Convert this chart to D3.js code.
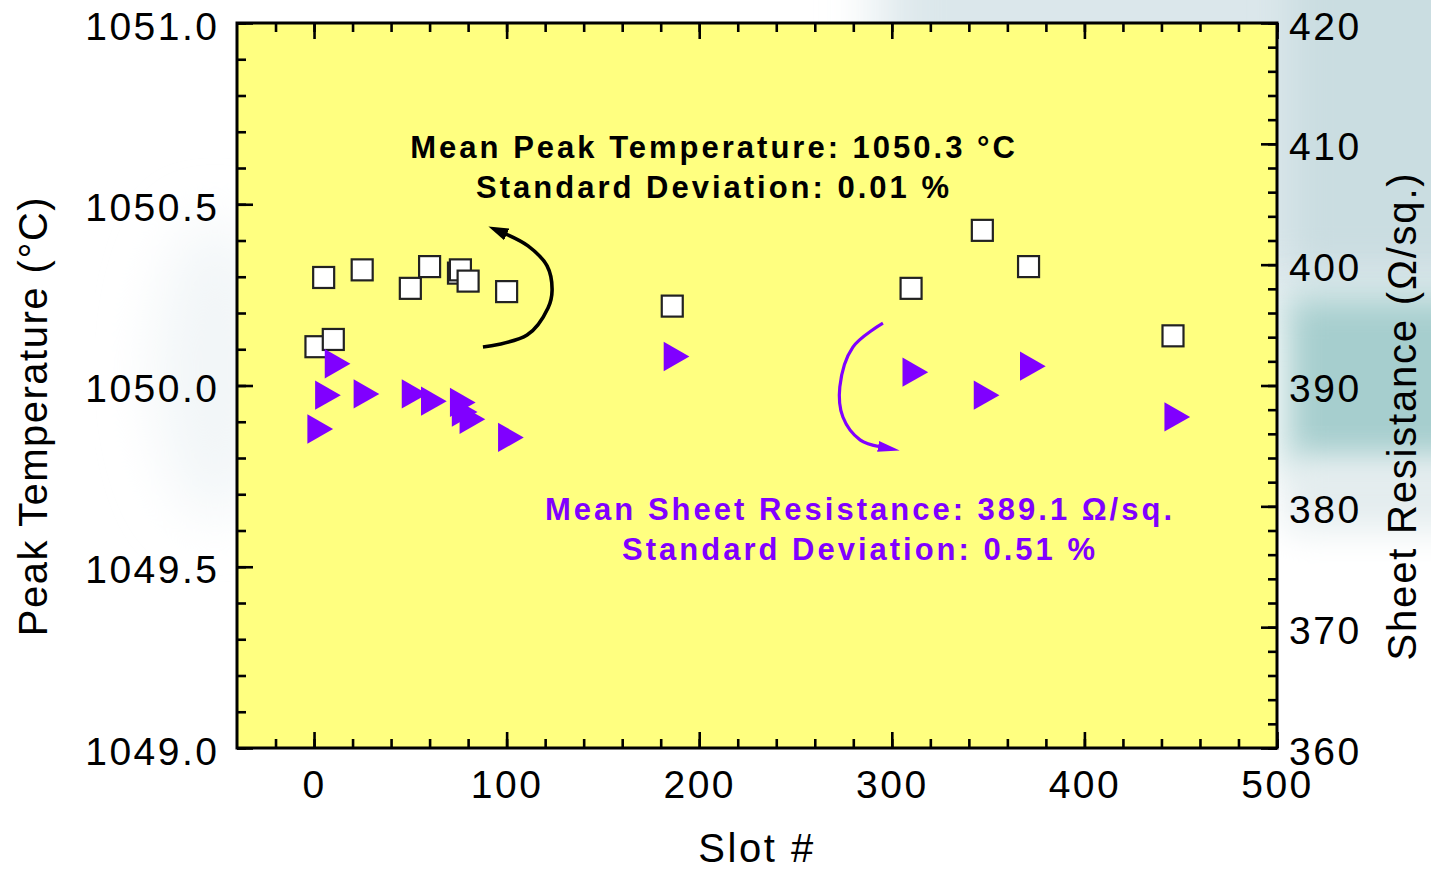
<!DOCTYPE html>
<html><head><meta charset="utf-8">
<script src="https://cdn.jsdelivr.net/npm/d3@7"></script>
<style>
html,body{margin:0;padding:0;background:#fff;}
svg{display:block;font-family:Arial,"Liberation Sans",Helvetica,sans-serif;}
</style></head><body>
<svg id="chart" width="1431" height="869"></svg>
<script>
// ---- data ----
const slots     = [1, 5, 10, 25, 50, 60, 75, 76, 80, 100, 186, 310, 347, 371, 446];
const peakTemp  = [1050.107, 1050.298, 1050.127, 1050.319, 1050.268, 1050.328, 1050.310, 1050.319, 1050.288, 1050.259, 1050.219, 1050.268, 1050.428, 1050.328, 1050.137];
const sheetRes  = [386.4, 389.2, 391.8, 389.3, 389.3, 388.7, 388.6, 387.8, 387.2, 385.7, 392.4, 391.1, 389.2, 391.6, 387.4];
const xMajorTicks = [0, 100, 200, 300, 400, 500];
const xMinorTicks = d3.range(-20, 501, 20);
const yLeftMajorTicks = [1049.0, 1049.5, 1050.0, 1050.5, 1051.0];
const yLeftMinorTicks = d3.range(10490, 10511, 1).map(v => v / 10);
const yRightMajorTicks = [360, 370, 380, 390, 400, 410, 420];
const yRightMinorTicks = d3.range(360, 421, 2);
const xTitle = "Slot #";
const yLeftTitle = "Peak Temperature (°C)";
const yRightTitle = "Sheet Resistance (Ω/sq.)";
const tempNote = ["Mean Peak Temperature: 1050.3 °C", "Standard Deviation: 0.01 %"];
const resNote = ["Mean Sheet Resistance: 389.1 Ω/sq.", "Standard Deviation: 0.51 %"];
// annotation anchors in data units (slot, peak temperature)
const tempNotePos = [[207.7, 1050.628], [207.7, 1050.518]];
const resNotePos = [[283.5, 1049.629], [283.5, 1049.519]];
const tempArrow = [[87.7,1050.106],[110.6,1050.139],[121.5,1050.214],[123.6,1050.263],[121.0,1050.330],[111.1,1050.385],[99.1,1050.419]];
const resArrow = [[295.4,1050.172],[279.8,1050.106],[273.0,1049.996],[274.6,1049.913],[283.5,1049.850],[293.9,1049.831]];

// ---- layout ----
const W = 1431, H = 869;
const L = 237, R = 1277, T = 23, B = 748;
const purple = "#8000FF";

const svg = d3.select("#chart");
const defs = svg.append("defs");
const f = defs.append("filter").attr("id","blur").attr("x","-50%").attr("y","-50%").attr("width","200%").attr("height","200%");
f.append("feGaussianBlur").attr("stdDeviation", 28);
const f2 = defs.append("filter").attr("id","blur2").attr("x","-50%").attr("y","-50%").attr("width","200%").attr("height","200%");
f2.append("feGaussianBlur").attr("stdDeviation", 18);

// faded background picture
const bg = svg.append("g");
bg.append("rect").attr("x", 880).attr("y", -120).attr("width", 700).attr("height", 420).attr("fill", "#dbe7eb").attr("filter","url(#blur)");
bg.append("rect").attr("x", 1290).attr("y", -60).attr("width", 220).attr("height", 330).attr("fill", "#cadde1").attr("filter","url(#blur2)");
bg.append("rect").attr("x", 1285).attr("y", 295).attr("width", 220).attr("height", 175).attr("fill", "#a6cece").attr("filter","url(#blur2)");
bg.append("rect").attr("x", 1285).attr("y", 460).attr("width", 220).attr("height", 70).attr("fill", "#e3ecee").attr("filter","url(#blur2)");
bg.append("ellipse").attr("cx", 215).attr("cy", 370).attr("rx", 60).attr("ry", 150).attr("fill", "#f2f6f8").attr("filter","url(#blur)");

const x = d3.scaleLinear().domain([-40, 500]).range([L, R]);
const yL = d3.scaleLinear().domain([1049, 1051]).range([B, T]);
const yR = d3.scaleLinear().domain([360, 420]).range([B, T]);

// plot background
svg.append("rect").attr("x", L).attr("y", T).attr("width", R - L).attr("height", B - T).attr("fill", "#FFFF80");

const tickFont = 39, ls = 2.5;
function styleAxis(g) {
  g.select(".domain").remove();
  g.selectAll(".tick line").attr("stroke", "#000").attr("stroke-width", 2.6);
  g.selectAll(".tick text").attr("fill", "#000").attr("font-size", tickFont).attr("letter-spacing", ls).attr("font-family", "Arial, 'Liberation Sans', sans-serif");
}
// bottom
svg.append("g").attr("transform", `translate(0,${B})`).call(d3.axisBottom(x).tickValues(xMinorTicks).tickSize(-9).tickFormat("")).call(styleAxis);
svg.append("g").attr("transform", `translate(0,${B})`).call(d3.axisBottom(x).tickValues(xMajorTicks).tickSize(-16).tickPadding(22).tickFormat(d3.format("d"))).call(styleAxis);
// top
svg.append("g").attr("transform", `translate(0,${T})`).call(d3.axisTop(x).tickValues(xMinorTicks).tickSize(-9).tickFormat("")).call(styleAxis);
svg.append("g").attr("transform", `translate(0,${T})`).call(d3.axisTop(x).tickValues(xMajorTicks).tickSize(-16).tickFormat("")).call(styleAxis);
// left
svg.append("g").attr("transform", `translate(${L},0)`).call(d3.axisLeft(yL).tickValues(yLeftMinorTicks).tickSize(-9).tickFormat("")).call(styleAxis);
const gl = svg.append("g").attr("transform", `translate(${L},0)`).call(d3.axisLeft(yL).tickValues(yLeftMajorTicks).tickSize(-16).tickPadding(17.5).tickFormat(d3.format(".1f"))).call(styleAxis);
gl.selectAll(".tick text").attr("dy", "0.41em");
// right
svg.append("g").attr("transform", `translate(${R},0)`).call(d3.axisRight(yR).tickValues(yRightMinorTicks).tickSize(-9).tickFormat("")).call(styleAxis);
const gr = svg.append("g").attr("transform", `translate(${R},0)`).call(d3.axisRight(yR).tickValues(yRightMajorTicks).tickSize(-16).tickPadding(12).tickFormat(d3.format("d"))).call(styleAxis);
gr.selectAll(".tick text").attr("dy", "0.41em");

// frame
svg.append("rect").attr("x", L).attr("y", T).attr("width", R - L).attr("height", B - T).attr("fill", "none").attr("stroke", "#000").attr("stroke-width", 3);

// titles
svg.append("text").attr("x", (L + R) / 2).attr("y", 862).attr("text-anchor", "middle").attr("font-size", 40).attr("letter-spacing", 2.5).text(xTitle);
svg.append("text").attr("transform", `translate(47,416) rotate(-90)`).attr("text-anchor", "middle").attr("font-size", 40).attr("letter-spacing", 1.5).text(yLeftTitle);
svg.append("text").attr("transform", `translate(1416,416) rotate(-90)`).attr("text-anchor", "middle").attr("font-size", 40).attr("letter-spacing", 1.8).text(yRightTitle);

// arrows
defs.append("marker").attr("id", "headK").attr("viewBox", "0 -7 20 14").attr("refX", 2).attr("refY", 0)
  .attr("markerWidth", 20).attr("markerHeight", 14).attr("markerUnits", "userSpaceOnUse").attr("orient", "auto")
  .append("path").attr("d", "M0,-6.5L20,0L0,6.5Z").attr("fill", "#000");
defs.append("marker").attr("id", "headP").attr("viewBox", "0 -7 22 14").attr("refX", 2).attr("refY", 0)
  .attr("markerWidth", 22).attr("markerHeight", 14).attr("markerUnits", "userSpaceOnUse").attr("orient", "auto")
  .append("path").attr("d", "M0,-5.5L22,0L0,5.5Z").attr("fill", purple);
const arrowLine = d3.line().x(d => x(d[0])).y(d => yL(d[1])).curve(d3.curveCatmullRom.alpha(0.5));
svg.append("path").attr("d", arrowLine(tempArrow)).attr("fill", "none").attr("stroke", "#000").attr("stroke-width", 3.6).attr("marker-end", "url(#headK)");
svg.append("path").attr("d", arrowLine(resArrow)).attr("fill", "none").attr("stroke", purple).attr("stroke-width", 3.2).attr("marker-end", "url(#headP)");

// notes
const noteG = svg.append("g").attr("font-weight", "bold").attr("font-size", 31).attr("letter-spacing", 3).attr("text-anchor", "middle");
tempNote.forEach((t, i) => noteG.append("text").attr("x", x(tempNotePos[i][0])).attr("y", yL(tempNotePos[i][1])).attr("fill", "#000").text(t));
resNote.forEach((t, i) => noteG.append("text").attr("x", x(resNotePos[i][0])).attr("y", yL(resNotePos[i][1])).attr("fill", purple).text(t));

// squares (peak temperature, left axis)
const sq = 21;
svg.append("g").selectAll("rect").data(slots.map((s, i) => [s, peakTemp[i]])).join("rect")
  .attr("x", d => x(d[0]) - sq / 2).attr("y", d => yL(d[1]) - sq / 2)
  .attr("width", sq).attr("height", sq).attr("fill", "#fff").attr("stroke", "#222").attr("stroke-width", 2.2);

// triangles (sheet resistance, right axis), centroid at the point
const tw = 25.7, th = 29.3;
const triPath = `M${-tw / 3},${-th / 2}L${2 * tw / 3},0L${-tw / 3},${th / 2}Z`;
svg.append("g").selectAll("path").data(slots.map((s, i) => [s, sheetRes[i]])).join("path")
  .attr("transform", d => `translate(${x(d[0])},${yR(d[1])})`).attr("d", triPath).attr("fill", purple);
</script>
</body></html>
